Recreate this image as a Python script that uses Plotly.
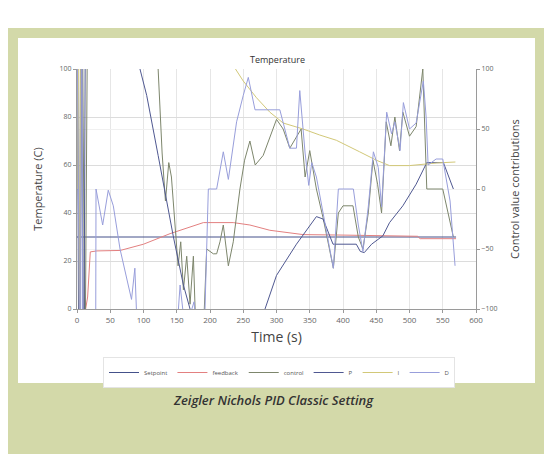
import plotly.graph_objects as go

# ---------------- data ----------------
setpoint_t = [0, 570]
setpoint_v = [30, 30]

feedback_t = [13, 16, 20, 30, 65, 100, 140, 190, 235, 260, 290, 340, 400, 440, 490, 512, 516, 570]
feedback_v = [0, 5, 23.8, 24.2, 24.4, 27, 31.4, 36, 36, 35, 32.8, 31, 30.8, 30.7, 30.5, 30.3, 29.3, 29.3]

control_t = [0, 4, 8, 12, 16, 118, 122, 128, 133, 138, 142, 147, 152, 156, 160, 165, 170, 175, 180,
             190, 195, 200, 205, 210, 215, 220, 227.6, 235, 245, 252, 260, 268, 280, 300, 310, 320,
             330, 337, 343, 350, 360, 370, 385.5, 393, 400, 415, 423, 430, 438, 445, 452, 458, 465,
             472, 478, 485, 490, 500, 510, 520, 526, 550, 566]
control_v = [130, -30, 130, -30, 130, 130, 100, 65, 45, 61, 55, 35, 18, 28, 8, 22, 2, 22, -20,
             -10, 25, 24, 23, 23, 28, 35, 18, 28, 50, 62, 70, 60, 64, 79, 75, 67,
             72, 75, 55, 66, 50, 38, 17, 40, 43, 43, 30, 25, 40, 62, 52, 40, 78,
             68, 80, 66, 82, 72, 76, 100, 50, 50, 30]

p_t = [0, 3, 6, 10, 13, 90, 94.7, 104.8, 122, 132, 145, 160, 170, 180, 260, 282.7, 300, 330, 350,
       360, 370, 380, 385, 420, 426, 432, 443, 460, 470, 490, 510, 526, 551, 566]
p_v = [200, -200, 200, -200, 200, 115, 100, 78, 28, -3, -40, -80, -100, -130, -140, -100, -72, -46, -30,
       -23, -25, -40, -46, -46, -52, -53, -46, -39, -28, -14, 4, 22, 22, 0]

i_t = [0, 2, 4, 6, 236, 250, 270, 290, 310, 340, 365, 390, 425, 450, 470, 500, 541, 569]
i_v = [0, 200, -200, 200, 102, 90, 76, 64, 55, 50, 45, 40.6, 31, 24, 19.5, 19.5, 21.7, 22.5]

d_t = [0, 5, 7, 9, 28, 28.6, 38.6, 47, 54.6, 64.7, 77, 82, 87, 90, 110, 150, 155, 160, 163, 170,
       176, 180, 190, 192.5, 197.5, 210, 220, 227.6, 240, 250, 257.6, 267.7, 305, 320, 330, 335,
       343, 348.5, 353, 360, 370, 385.5, 393, 415.6, 423, 430, 438, 445.7, 453, 458, 465.7, 473,
       478, 485.8, 490.8, 500, 510, 520.8, 525, 528, 540, 550, 561, 568.5]
d_v = [150, -200, 200, -200, -150, 0, -30, -1, -14, -50, -80, -92, -66, -110, -130, -120, -80, -100, -120, -105,
       -94, -120, -120, -100, 0, 0, 31, 8, 56, 78, 93, 66, 66, 34, 34, 82,
       30, 3, 22, 10, -20, -66, 0, 0, -30, -52, -15, 31, 18, -15, 64, 46,
       56, 32, 72, 50, 55, 90, 60, 20, 25, 25, -10, -64]

x_ticks = [0, 50, 100, 150, 200, 250, 300, 350, 400, 450, 500, 550, 600]
y_ticks = [0, 20, 40, 60, 80, 100]
y2_ticks = [-100, -50, 0, 50, 100]

# ---------------- figure ----------------
W, H = 560, 470
OFF = 8  # page body margin
L, R, T, B = 77 - OFF, 476 - OFF, 69 - OFF, 309 - OFF


def px(x):
    return (x - OFF - L) / (R - L)


def py(y):
    return (B - (y - OFF)) / (B - T)


fig = go.Figure()
fig.add_trace(go.Scatter(x=setpoint_t, y=setpoint_v, name="Setpoint", mode="lines",
                         line=dict(color="#44518a", width=1)))
fig.add_trace(go.Scatter(x=feedback_t, y=feedback_v, name="feedback", mode="lines",
                         line=dict(color="#e38080", width=1)))
fig.add_trace(go.Scatter(x=control_t, y=control_v, name="control", mode="lines",
                         line=dict(color="#7d866c", width=1)))
fig.add_trace(go.Scatter(x=p_t, y=p_v, name="P", mode="lines", yaxis="y2",
                         line=dict(color="#4f5891", width=1)))
fig.add_trace(go.Scatter(x=i_t, y=i_v, name="I", mode="lines", yaxis="y2",
                         line=dict(color="#d2c878", width=1)))
fig.add_trace(go.Scatter(x=d_t, y=d_v, name="D", mode="lines", yaxis="y2",
                         line=dict(color="#989edb", width=1)))

shapes = [
    dict(type="rect", xref="paper", yref="paper", x0=px(8), x1=px(544), y0=py(454), y1=py(28),
         fillcolor="#d3d9a9", line=dict(width=0), layer="below"),
    dict(type="rect", xref="paper", yref="paper", x0=px(18), x1=px(535), y0=py(383), y1=py(38),
         fillcolor="#ffffff", line=dict(width=0), layer="below"),
]

fig.update_layout(
    width=W, height=H,
    margin=dict(l=L, r=W - R, t=T, b=H - B),
    paper_bgcolor="#ffffff", plot_bgcolor="#ffffff",
    font=dict(family="Open Sans, DejaVu Sans, sans-serif", color="#555555", size=8),
    shapes=shapes,
    showlegend=True,
    legend=dict(orientation="h", x=px(279), y=py(357), xanchor="center", yanchor="top",
                font=dict(size=6, color="#555555"), bgcolor="#ffffff",
                bordercolor="#e4e4e4", borderwidth=1, itemwidth=30, tracegroupgap=0),
    xaxis=dict(range=[0, 600], tickvals=x_ticks, showgrid=True, gridcolor="#e6e6e6", gridwidth=1,
               zeroline=False, showline=True, linecolor="#9a9a9a", ticks="outside", ticklen=3,
               tickcolor="#9a9a9a", tickfont=dict(size=8, color="#666666"),
               title=dict(text="Time (s)", font=dict(size=14, color="#444444"), standoff=8)),
    yaxis=dict(range=[0, 100], tickvals=y_ticks, showgrid=True, gridcolor="#dcdcdc",
               zeroline=False, showline=True, linecolor="#9a9a9a", ticks="outside", ticklen=3,
               tickcolor="#9a9a9a", tickfont=dict(size=7, color="#666666"),
               title=dict(text="Temperature (C)", font=dict(size=11, color="#444444"), standoff=14)),
    yaxis2=dict(range=[-100, 100], tickvals=y2_ticks, overlaying="y", side="right",
                showgrid=True, gridcolor="#f0f0f0", zeroline=False, showline=True,
                linecolor="#9a9a9a", ticks="outside", ticklen=3, tickcolor="#9a9a9a",
                tickfont=dict(size=7, color="#666666"),
                title=dict(text="Control value contributions", font=dict(size=11, color="#444444"),
                           standoff=14)),
    annotations=[
        dict(text="Temperature", xref="paper", yref="paper", x=px(277), y=py(51),
             showarrow=False, font=dict(size=9, color="#333333")),
        dict(text="<i>Zeigler Nichols PID Classic Setting</i>", xref="paper", yref="paper",
             x=px(273), y=py(411), showarrow=False,
             font=dict(size=13, color="#333333", family="Open Sans, sans-serif", weight=600)),
    ],
)

fig.write_html("out.html")
